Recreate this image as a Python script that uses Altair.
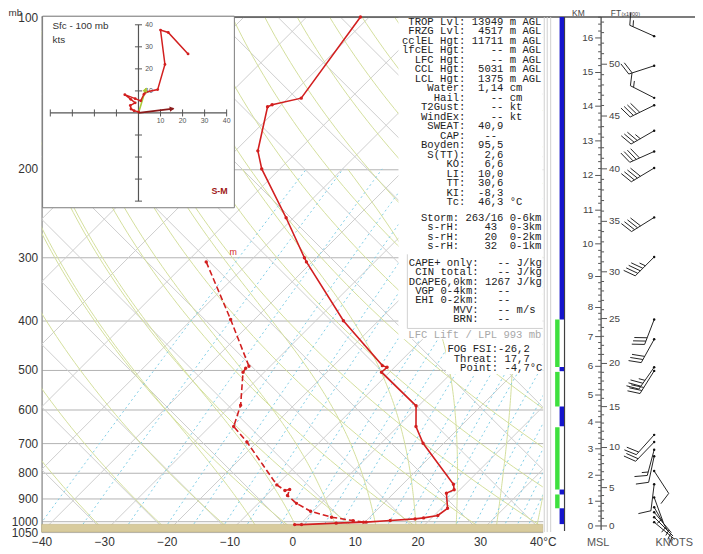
import numpy as np
import pandas as pd
import altair as alt

alt.data_transformers.disable_max_rows()

# ===================== values =====================
P_TICKS = [100, 200, 300, 400, 500, 600, 700, 800, 900, 1000, 1050]
T_TICKS = [-40, -30, -20, -10, 0, 10, 20, 30, 40]

TEMP_P = [100, 144.8, 149.2, 150.6, 184.2, 200, 250, 300, 305.8, 400, 491.1,
          494.7, 506.0, 590.0, 648.6, 700, 844.1, 865.7, 879.0, 941.9, 973.4,
          984.1, 988.6, 995.8, 1003.5, 1008.0, 1014.8, 1014.8]
TEMP_C = [-71.4, -67.9, -71.5, -71.9, -66.4, -62.9, -51.2, -41.9, -40.9, -25.6,
          -12.2, -11.2, -11.3, -0.4, 2.9, 6.7, 18.1, 19.1, 18.4, 21.0, 20.6,
          18.7, 17.5, 13.8, 10.2, 5.6, 0.3, -0.8]
DEW_P = [305.8, 397.8, 492.5, 497.0, 506.0, 588.4, 648.6, 696.2, 846.4, 868.5,
         864.6, 888.4, 921.0, 954.7, 981.0, 996.6, 1003.5]
DEW_C = [-56.9, -43.8, -33.4, -33.6, -33.4, -28.5, -26.2, -21.6, -10.0, -7.8,
         -7.2, -6.6, -3.9, -0.4, 3.9, 7.9, 9.8]
SFC_P = 1013.0

WIND_P = [109.1, 124.9, 144.6, 149.6, 168.0, 184.7, 199.2, 249.6, 299.0, 397.8,
          435.4, 494.7, 503.0, 673.6, 696.2, 720.8, 742.6, 794.6, 844.1, 896.3,
          937.7, 959.0, 981.0, 1003.5]
WIND_DIR = [294, 252, 297, 244, 240, 246, 239, 238, 225, 201, 209, 215, 212, 222,
            224, 195, 192, 147, 187, 160, 150, 140, 135, 130]
WIND_KT = [15, 20, 15, 40, 35, 40, 40, 40, 45, 30, 30, 35, 30, 20, 20, 15, 10, 10,
           10, 5, 5, 5, 5, 5]

KM_VALUES = list(range(17))
KM_P = [1021, 912.1, 810.0, 717.9, 635.4, 561.6, 492.6, 430.1, 376.6, 326.9,
        281.6, 241.5, 206.1, 176.0, 150.2, 128.8, 110.0]
FT_VALUES = [0, 5, 10, 15, 20, 25, 30, 35, 40, 45, 50]

BAR_TOP = [100, 397.8, 494.1, 505.3, 591.8, 650.6, 864.6, 884.4, 941.9]
BAR_BOT = [397.8, 494.1, 503.7, 591.8, 647.7, 864.6, 884.4, 941.9, 1012.5]
BAR_KIND = ['blue', 'green', 'blue', 'green', 'blue', 'green', 'blue', 'green', 'blue']

HODO_U = [0.0, -2.0, -3.4, -3.7, -1.5, -3.5, -6.2, -1.5, 1.0, 2.5, 3.5, 8.7, 12.0, 10.0, 13.5, 22.5]
HODO_V = [0.5, 1.0, 1.8, 3.4, 4.6, 6.2, 8.3, 6.5, 5.5, 8.5, 9.5, 10.6, 22.0, 37.6, 36.5, 26.8]
MEAN_U, MEAN_V = 3.4, 11.2
STORM_DIR, STORM_KT = 263, 16
HODO_TICKS = [-40, -30, -20, -10, 10, 20, 30, 40]

TEXT_MAIN = [
    " TROP Lvl: 13949 m AGL",
    " FRZG Lvl:  4517 m AGL",
    "cclEL Hgt: 11711 m AGL",
    "lfcEL Hgt:    -- m AGL",
    "  LFC Hgt:    -- m AGL",
    "  CCL Hgt:  5031 m AGL",
    "  LCL Hgt:  1375 m AGL",
    "    Water:  1,14 cm",
    "     Hail:    -- cm",
    "   T2Gust:    -- kt",
    "   WindEx:    -- kt",
    "    SWEAT:  40,9",
    "      CAP:   --",
    "   Boyden:  95,5",
    "    S(TT):   2,6",
    "       KO:   6,6",
    "       LI:  10,0",
    "       TT:  30,6",
    "       KI:  -8,3",
    "       Tc:  46,3 °C",
]
TEXT_STORM = [
    "   Storm: 263/16 0-6km",
    "    s-rH:    43  0-3km",
    "    s-rH:    20  0-2km",
    "    s-rH:    32  0-1km",
]
TEXT_CAPE = [
    "CAPE+ only:   -- J/kg",
    " CIN total:   -- J/kg",
    "DCAPE6,0km: 1267 J/kg",
    " VGP 0-4km:   --",
    " EHI 0-2km:   --",
    "       MVV:   -- m/s",
    "       BRN:   --",
]
TEXT_LFC = "LFC Lift / LPL 993 mb"
TEXT_FOG = ["FOG FSI:-26,2", " Threat: 17,7", "  Point: -4,7°C"]

# ===================== layout / style constants =====================
W, H = 507, 521
K = 35.0
P_BOT, P_TOP = 1050.0, 100.0
PX_PER_LN = H / np.log(P_BOT / P_TOP)
RED = "#d21f1f"
GRAY_ISO = "#cdcdcd"
GREEN = "#d3df9c"
CYAN = "#7fcde6"
MONO = "Liberation Mono"
SANS = "Liberation Sans"
NB = "\u00a0"
ZW = "\u200b"
MONO_SIZE = 10.7


def keep_spaces(lines):
    # zero-width lead + non-breaking spaces keep the monospace columns
    return [ZW + s.replace(" ", NB) for s in lines]


def skew(t, p):
    return np.asarray(t, float) + K * np.log(P_BOT / np.asarray(p, float))


xs = alt.Scale(domain=[-40, 40], nice=False, zero=False)
ys = alt.Scale(type="log", domain=[P_TOP, P_BOT], reverse=True, nice=False)

# ---------------- background thermodynamic lines ----------------
iso_T = np.arange(-120, 41, 10)
iso = pd.DataFrame({"x1": iso_T, "x2": skew(iso_T, P_TOP), "p1": P_BOT, "p2": P_TOP})
dr_c = np.arange(-40, 131, 10)
diag = pd.DataFrame({"x1": dr_c, "x2": dr_c - K * np.log(P_BOT / P_TOP), "p1": P_BOT, "p2": P_TOP})

pp = np.geomspace(P_BOT, P_TOP, 80)
rows = []
for th in np.arange(230, 451, 10):
    t = th * (pp / 1000.0) ** 0.2857 - 273.15
    for i, (x, p) in enumerate(zip(skew(t, pp), pp)):
        rows.append((f"d{th}", i, x, p))
dry = pd.DataFrame(rows, columns=["id", "i", "x", "p"])

Rd, Cp, Lv, EPS = 287.04, 1005.7, 2.501e6, 0.622


def es(tc):
    return 6.112 * np.exp(17.67 * tc / (tc + 243.5))


def dTdp(p, T):
    e = es(T - 273.15)
    rs = EPS * e / (p - e)
    return (Rd * T + Lv * rs) / (p * (Cp + Lv * Lv * rs * EPS / (Rd * T * T)))


rows = []
for tw in [-8, -1.5, 5, 11.5, 18, 24.5, 31, 37.5]:
    seg_ = []
    for direction, pend in ((-2.0, 200.0), (2.0, P_BOT)):
        p, T = 1000.0, tw + 273.15
        pts = []
        while (p > pend) if direction < 0 else (p < pend):
            k1 = dTdp(p, T)
            k2 = dTdp(p + direction / 2, T + k1 * direction / 2)
            T += k2 * direction
            p += direction
            pts.append((p, T))
        seg_.append(pts)
    allp = list(reversed(seg_[0])) + [(1000.0, tw + 273.15)] + seg_[1]
    for i, (p, T) in enumerate(allp[::4]):
        rows.append((f"m{tw}", i, float(skew(T - 273.15, p)), p))
moist = pd.DataFrame(rows, columns=["id", "i", "x", "p"])

rows = []
pm = np.geomspace(P_BOT, 200, 30)
for w in [0.1, 0.2, 0.4, 0.7, 1, 1.5, 2, 3, 4, 5, 6, 8, 10, 12, 14, 16, 20, 24, 28, 32, 36, 40]:
    e = w * pm / (622.0 + w)
    ln = np.log(e / 6.112)
    td = 243.5 * ln / (17.67 - ln)
    for i, (x, p) in enumerate(zip(skew(td, pm), pm)):
        rows.append((f"w{w}", i, x, p))
mix = pd.DataFrame(rows, columns=["id", "i", "x", "p"])

x_axis = alt.Axis(values=T_TICKS, format="d", labelExpr="datum.value == 40 ? '40°C' : datum.label",
                  grid=False, ticks=False, domain=False, labelFontSize=12, labelColor="#333",
                  labelFont=SANS, labelPadding=5, labelFlush=False, title=None, orient="bottom")
y_axis = alt.Axis(values=P_TICKS, format="d", grid=True, gridColor="#b2b2b2", gridWidth=1,
                  ticks=False, domain=True, domainColor="#9a9a9a", domainWidth=1.5,
                  labelFontSize=12, labelColor="#333", labelFont=SANS, labelPadding=4,
                  labelOverlap=False, labelFlush=False, orient="left",
                  title="mb", titleAngle=0, titleX=-34, titleY=-2, titleAlign="left",
                  titleBaseline="alphabetic", titleFontSize=10, titleFontWeight="normal",
                  titleColor="#333", titleFont=SANS)

layers = []
layers.append(alt.Chart(iso).mark_rule(clip=True, color=GRAY_ISO, strokeWidth=1).encode(
    x=alt.X("x1:Q", scale=xs, axis=x_axis), x2="x2:Q",
    y=alt.Y("p1:Q", scale=ys, axis=y_axis), y2="p2:Q"))
layers.append(alt.Chart(diag).mark_rule(clip=True, color=GRAY_ISO, strokeWidth=1).encode(
    x=alt.X("x1:Q", scale=xs, axis=None), x2="x2:Q",
    y=alt.Y("p1:Q", scale=ys, axis=None), y2="p2:Q"))


def curve(df, color, dash=None, width=1.0):
    kw = dict(clip=True, color=color, strokeWidth=width)
    if dash:
        kw["strokeDash"] = dash
    return alt.Chart(df).mark_line(**kw).encode(
        x=alt.X("x:Q", scale=xs, axis=None), y=alt.Y("p:Q", scale=ys, axis=None),
        detail="id:N", order="i:Q")


layers += [curve(dry, GREEN), curve(moist, GREEN), curve(mix, CYAN, dash=[2, 3])]

tan = pd.DataFrame({"x1": [-40], "x2": [40], "p1": [SFC_P], "p2": [P_BOT]})
layers.append(alt.Chart(tan).mark_rect(color="#d8cb9d", stroke="#b9ab7c", strokeWidth=0.5).encode(
    x=alt.X("x1:Q", scale=xs, axis=None), x2="x2:Q",
    y=alt.Y("p1:Q", scale=ys, axis=None), y2="p2:Q"))

one = pd.DataFrame({"a": [0]})
layers.append(alt.Chart(one).mark_rect(color="white").encode(
    x=alt.value(361), x2=alt.value(W), y=alt.value(0), y2=alt.value(326)))
layers.append(alt.Chart(one).mark_rect(color="white").encode(
    x=alt.value(409), x2=alt.value(W), y=alt.value(326), y2=alt.value(361)))
layers.append(alt.Chart(one).mark_rule(color="#d0d0d0", strokeWidth=1).encode(
    x=alt.value(370), y=alt.value(240), y2=alt.value(315)))
layers.append(alt.Chart(one).mark_rule(color="#d0d0d0", strokeWidth=1).encode(
    x=alt.value(370), x2=alt.value(W), y=alt.value(315)))


def mono_block(lines, x, y, size=MONO_SIZE, lh=9.6, color="#222"):
    return alt.Chart(one).mark_text(text=keep_spaces(lines), font=MONO, fontSize=size, lineHeight=lh,
                                    align="left", baseline="top", color=color).encode(
        x=alt.value(x), y=alt.value(y))


layers += [
    mono_block(TEXT_MAIN, 364.6, 0),
    mono_block(TEXT_STORM, 364.6, 198),
    mono_block(TEXT_CAPE, 371.5, 244, lh=9.4),
    mono_block([TEXT_LFC], 371, 317, color="#a8a8a8"),
    mono_block(TEXT_FOG, 410.5, 331),
]
layers.append(alt.Chart(one).mark_rule(color="#505050", strokeWidth=1.5).encode(
    x=alt.value(0), x2=alt.value(661), y=alt.value(0)))

tdf = pd.DataFrame({"x": skew(TEMP_C, TEMP_P), "p": TEMP_P, "i": range(len(TEMP_P))})
ddf = pd.DataFrame({"x": skew(DEW_C, DEW_P), "p": DEW_P, "i": range(len(DEW_P))})
layers.append(alt.Chart(tdf).mark_line(color=RED, strokeWidth=1.6).encode(
    x=alt.X("x:Q", scale=xs, axis=None), y=alt.Y("p:Q", scale=ys, axis=None), order="i:Q"))
layers.append(alt.Chart(tdf).mark_circle(color=RED, size=12, opacity=1).encode(
    x=alt.X("x:Q", scale=xs, axis=None), y=alt.Y("p:Q", scale=ys, axis=None)))
layers.append(alt.Chart(ddf).mark_line(color=RED, strokeWidth=1.6, strokeDash=[6, 3]).encode(
    x=alt.X("x:Q", scale=xs, axis=None), y=alt.Y("p:Q", scale=ys, axis=None), order="i:Q"))
layers.append(alt.Chart(ddf).mark_circle(color=RED, size=12, opacity=1).encode(
    x=alt.X("x:Q", scale=xs, axis=None), y=alt.Y("p:Q", scale=ys, axis=None)))
layers.append(alt.Chart(pd.DataFrame({"x": [-9.4], "p": [292.7], "t": ["m"]})).mark_text(
    color=RED, fontSize=9, font=SANS).encode(
    x=alt.X("x:Q", scale=xs, axis=None), y=alt.Y("p:Q", scale=ys, axis=None), text="t:N"))

# ---------------- right panel (heights + winds) ----------------
xb = alt.Scale(domain=[0, 154], range=[W, W + 154], nice=False, zero=False)
yb = alt.Scale(type="log", domain=[P_TOP, P_BOT], reverse=True, nice=False)
U_AX = 59.0
U_DOT = 112.7

km_ln = np.log(np.array(KM_P))


def km_to_p(km):
    km = np.asarray(km, float)
    slope = (km_ln[-1] - km_ln[-2])
    out = np.interp(km, KM_VALUES, km_ln)
    out = np.where(km > 16, km_ln[-1] + (km - 16) * slope, out)
    return np.exp(out)


def seg(df, color, width=1.0):
    return alt.Chart(df).mark_rule(color=color, strokeWidth=width).encode(
        x=alt.X("x1:Q", scale=xb, axis=None), x2="x2:Q",
        y=alt.Y("p1:Q", scale=yb, axis=None), y2="p2:Q")


vlines = pd.DataFrame({"x1": [1.5, 4.5, 8.0], "x2": [1.5, 4.5, 8.0], "p1": P_TOP, "p2": P_BOT})
dark = pd.DataFrame({"x1": [22.0, U_AX], "x2": [22.0, U_AX], "p1": P_TOP, "p2": [1045.0, 1040.0]})
bars = pd.DataFrame({"p1": BAR_TOP, "p2": BAR_BOT, "kind": BAR_KIND})
bars["x1"] = np.where(bars["kind"] == "blue", 17.0, 12.5)
bars["x2"] = np.where(bars["kind"] == "blue", 21.5, 17.0)
bars["col"] = np.where(bars["kind"] == "blue", "#1515cc", "#3ee03e")

km_minor = np.round(np.arange(0, 16.61, 0.2), 2)
km_tk = pd.DataFrame({"km": km_minor})
km_tk["p1"] = km_to_p(km_tk["km"])
km_tk["p2"] = km_tk["p1"]
km_tk["x2"] = U_AX
frac = np.abs(km_tk["km"] - np.round(km_tk["km"]))
km_tk["x1"] = np.where(frac < 1e-6, U_AX - 6, U_AX - 3)
ft_tk = pd.DataFrame({"ft": np.arange(0, 55, 1)})
ft_tk["p1"] = km_to_p(ft_tk["ft"] * 0.3048)
ft_tk["p2"] = ft_tk["p1"]
ft_tk["x1"] = U_AX
ft_tk["x2"] = np.where(ft_tk["ft"] % 5 == 0, U_AX + 6, U_AX + 3)

km_lab = pd.DataFrame({"p": KM_P, "t": [str(v) for v in KM_VALUES], "x": U_AX - 8})
ft_lab = pd.DataFrame({"p": km_to_p(np.array(FT_VALUES) * 0.3048), "t": [str(v) for v in FT_VALUES],
                       "x": U_AX + 8})


def labels(df, align):
    return alt.Chart(df).mark_text(align=align, baseline="middle", fontSize=10, font=SANS, color="#444").encode(
        x=alt.X("x:Q", scale=xb, axis=None), y=alt.Y("p:Q", scale=yb, axis=None), text="t:N")


rows = []
dots = []
L, FL, SP = 27.0, 13.0, 3.6
for p, d, s in zip(WIND_P, WIND_DIR, WIND_KT):
    a = np.deg2rad(d)
    dx, dy = np.sin(a), -np.cos(a)
    qx, qy = -dy, dx

    def P(oy, p=p):
        return p * np.exp(oy / PX_PER_LN)

    rows.append((U_DOT, p, U_DOT + L * dx, P(L * dy)))
    n_full, rem = divmod(s, 10)
    pos = L
    for _ in range(n_full):
        bx, by = pos * dx, pos * dy
        tx, ty = bx + FL * (0.94 * qx + 0.34 * dx), by + FL * (0.94 * qy + 0.34 * dy)
        rows.append((U_DOT + bx, P(by), U_DOT + tx, P(ty)))
        pos -= SP
    if rem >= 5:
        if n_full == 0:
            pos = L - SP
        bx, by = pos * dx, pos * dy
        tx, ty = bx + FL / 2 * (0.94 * qx + 0.34 * dx), by + FL / 2 * (0.94 * qy + 0.34 * dy)
        rows.append((U_DOT + bx, P(by), U_DOT + tx, P(ty)))
    dots.append((U_DOT, p))
barbs = pd.DataFrame(rows, columns=["x1", "p1", "x2", "p2"])
bdots = pd.DataFrame(dots, columns=["x", "p"])


def free_text(txt, x, y, size=10, color="#444", align="center", weight="normal", font=SANS):
    return alt.Chart(one).mark_text(text=txt, fontSize=size, color=color, align=align,
                                    baseline="alphabetic", fontWeight=weight, font=font).encode(
        x=alt.value(x), y=alt.value(y))


layers += [
    seg(vlines, "#cfcfcf"), seg(dark, "#404040", 1.2),
    alt.Chart(bars).mark_rect().encode(
        x=alt.X("x1:Q", scale=xb, axis=None), x2="x2:Q",
        y=alt.Y("p1:Q", scale=yb, axis=None), y2="p2:Q", color=alt.Color("col:N", scale=None)),
    seg(km_tk, "#555"), seg(ft_tk, "#555"),
    labels(km_lab, "right"), labels(ft_lab, "left"),
    seg(barbs, "#222", 1.0),
    alt.Chart(bdots).mark_circle(color="#111", size=6, opacity=1).encode(
        x=alt.X("x:Q", scale=xb, axis=None), y=alt.Y("p:Q", scale=yb, axis=None)),
    free_text("KM", 543, -1, 8.5), free_text("FT", 581, -1, 8.5),
    free_text("(x1000)", 596, -1.5, 5.5),
    free_text("MSL", 563, 535, 11, "#555"), free_text("KNOTS", 640, 535, 11, "#555"),
]

# ---------------- hodograph ----------------
xc = alt.Scale(domain=[-40, 40], range=[8.8, 187.2], nice=False, zero=False)
yc = alt.Scale(domain=[-40, 40], range=[186.2, 7.8], nice=False, zero=False)
hbox = pd.DataFrame({"u1": [-43.5], "u2": [43.5], "v1": [-43.0], "v2": [43.9]})


def hseg(df, color, width=1.0):
    return alt.Chart(df).mark_rule(color=color, strokeWidth=width).encode(
        x=alt.X("u1:Q", scale=xc, axis=None), x2="u2:Q",
        y=alt.Y("v1:Q", scale=yc, axis=None), y2="v2:Q")


haxes = pd.DataFrame({"u1": [-40, 0], "u2": [40, 0], "v1": [0, -40], "v2": [0, 40]})
ht = np.array(HODO_TICKS, float)
htk = pd.DataFrame({"u1": np.r_[ht, np.full(len(ht), -1.6)], "u2": np.r_[ht, np.full(len(ht), 1.6)],
                    "v1": np.r_[np.full(len(ht), -1.6), ht], "v2": np.r_[np.full(len(ht), 1.6), ht]})
pos_t = [t for t in HODO_TICKS if t > 0]
hlab = pd.DataFrame({"u": pos_t + [4.8] * len(pos_t), "v": [-3.6] * len(pos_t) + pos_t,
                     "t": [str(t) for t in pos_t] * 2})
hodo = pd.DataFrame({"u": HODO_U, "v": HODO_V, "i": range(len(HODO_U))})
mean = pd.DataFrame({"u1": [0.0], "v1": [0.0], "u2": [MEAN_U], "v2": [MEAN_V]})
sa = np.deg2rad(STORM_DIR + 180)
su, sv = STORM_KT * np.sin(sa), STORM_KT * np.cos(sa)
storm = pd.DataFrame({"u1": [0.0], "v1": [0.0], "u2": [su], "v2": [sv]})
heads = pd.DataFrame({"u": [su - 1.0, MEAN_U - 0.3], "v": [sv - 0.1, MEAN_V - 1.0],
                      "ang": [(STORM_DIR + 180) % 360, 20], "c": ["#8b1a1a", "#a9c93a"]})

layers += [
    alt.Chart(hbox).mark_rect(fill="white", stroke="#7a7a7a", strokeWidth=1).encode(
        x=alt.X("u1:Q", scale=xc, axis=None), x2="u2:Q", y=alt.Y("v1:Q", scale=yc, axis=None), y2="v2:Q"),
    hseg(haxes, "#555", 1.2), hseg(htk, "#555", 1.0),
    alt.Chart(hlab).mark_text(fontSize=7, color="#555", font=SANS).encode(
        x=alt.X("u:Q", scale=xc, axis=None), y=alt.Y("v:Q", scale=yc, axis=None), text="t:N"),
    hseg(mean, "#a9c93a", 1.6),
    alt.Chart(hodo).mark_line(color=RED, strokeWidth=1.5).encode(
        x=alt.X("u:Q", scale=xc, axis=None), y=alt.Y("v:Q", scale=yc, axis=None), order="i:Q"),
    alt.Chart(hodo).mark_circle(color=RED, size=8, opacity=1).encode(
        x=alt.X("u:Q", scale=xc, axis=None), y=alt.Y("v:Q", scale=yc, axis=None)),
    hseg(storm, "#8b1a1a", 1.8),
    alt.Chart(heads).mark_point(shape="triangle", filled=True, size=30, opacity=1).encode(
        x=alt.X("u:Q", scale=xc, axis=None), y=alt.Y("v:Q", scale=yc, axis=None),
        angle=alt.Angle("ang:Q", scale=None), color=alt.Color("c:N", scale=None)),
    free_text("Sfc - 100 mb", 11, 12, 10, "#333", "left"),
    free_text("kts", 11, 26, 10, "#333", "left"),
    free_text("S-M", 180, 179, 9, "#a01818", "center", "bold"),
]

chart = alt.layer(*layers).resolve_scale(
    x="independent", y="independent"
).properties(
    width=W, height=H,
    autosize=alt.AutoSizeParams(type="none"),
    padding={"left": 34, "top": 6, "right": 154, "bottom": 19},
).configure_view(stroke=None)

chart.save("out.html", embed_options={"renderer": "svg", "actions": False})
